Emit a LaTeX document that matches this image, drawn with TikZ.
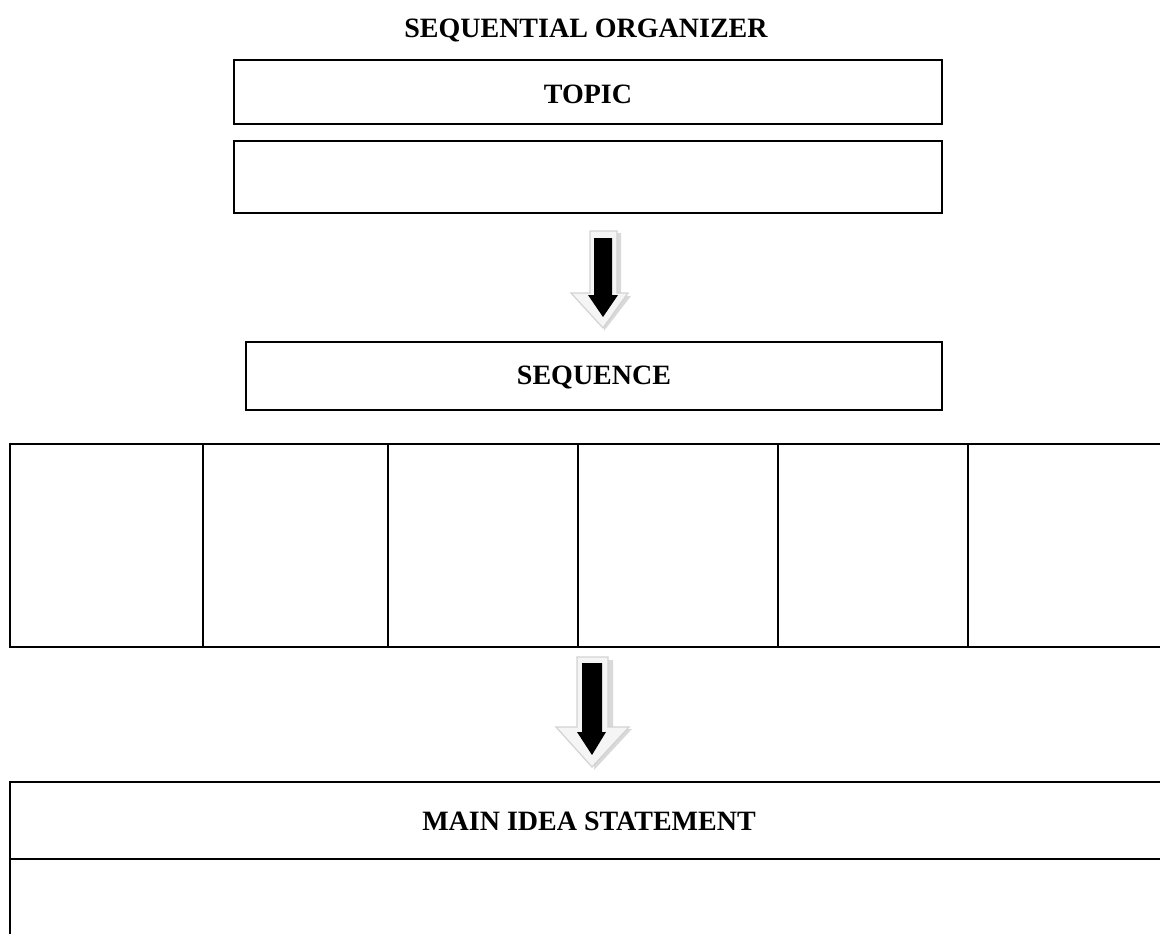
\documentclass[tikz,border=0pt]{standalone}
\usepackage{fontspec}
\setmainfont{Liberation Serif}
\begin{document}
\begin{tikzpicture}[x=1pt,y=-1pt,
  box/.style={draw=black,line width=2.5pt},
  lbl/.style={font=\fontsize{28}{32}\selectfont\bfseries,inner sep=0pt},
  arrowout/.style={fill=gray!8,draw=gray!35,line width=1.2pt},
  arrowshadow/.style={fill=gray!30},
  arrowin/.style={fill=black}]
\useasboundingbox (0,0) rectangle (1160,934);
\clip (0,0) rectangle (1160,934);
% title
\node[lbl] (title) at (586,31) {SEQUENTIAL ORGANIZER};
% topic boxes
\draw[box] (234,60) rectangle (942,124);
\node[lbl] (topic) at (588,94) {TOPIC};
\draw[box] (234,141) rectangle (942,213);
\coordinate (blank) at (588,177);
% arrow 1
\begin{scope}[shift={(603,0)}]
  \fill[arrowshadow] (2,233) -- (18,233) -- (18,296) -- (28,296) -- (1,331) -- cycle;
  \draw[arrowout] (-13,231) -- (14,231) -- (14,293) -- (25,293) -- (0,328) -- (-32,293) -- (-13,293) -- cycle;
  \fill[arrowin] (-9,238) -- (9,238) -- (9,295) -- (15,295) -- (0,317) -- (-15,295) -- (-9,295) -- cycle;
\end{scope}
% sequence box
\draw[box] (246,342) rectangle (942,410);
\node[lbl] (seq) at (594,377) {SEQUENCE};
% sequence cells
\foreach \a/\b [count=\i] in {10/203,203/388,388/578,578/778,778/968,968/1175}{
  \draw[box] (\a,444) rectangle (\b,647);
  \coordinate (cell\i) at ({(\a+\b)/2},545);
}
% arrow 2
\begin{scope}[shift={(592,0)}]
  \fill[arrowshadow] (4,660) -- (21,660) -- (21,729) -- (40,729) -- (2,770) -- cycle;
  \draw[arrowout] (-15,657) -- (16,657) -- (16,727) -- (37,727) -- (0,767) -- (-36,727) -- (-15,727) -- cycle;
  \fill[arrowin] (-10,663) -- (10,663) -- (10,732) -- (14,732) -- (0,755) -- (-15,732) -- (-10,732) -- cycle;
\end{scope}
% main idea
\draw[box] (10,782) rectangle (1175,859);
\node[lbl] (main) at (589,821) {MAIN IDEA STATEMENT};
\draw[box] (10,859) rectangle (1175,960);
\end{tikzpicture}
\end{document}
